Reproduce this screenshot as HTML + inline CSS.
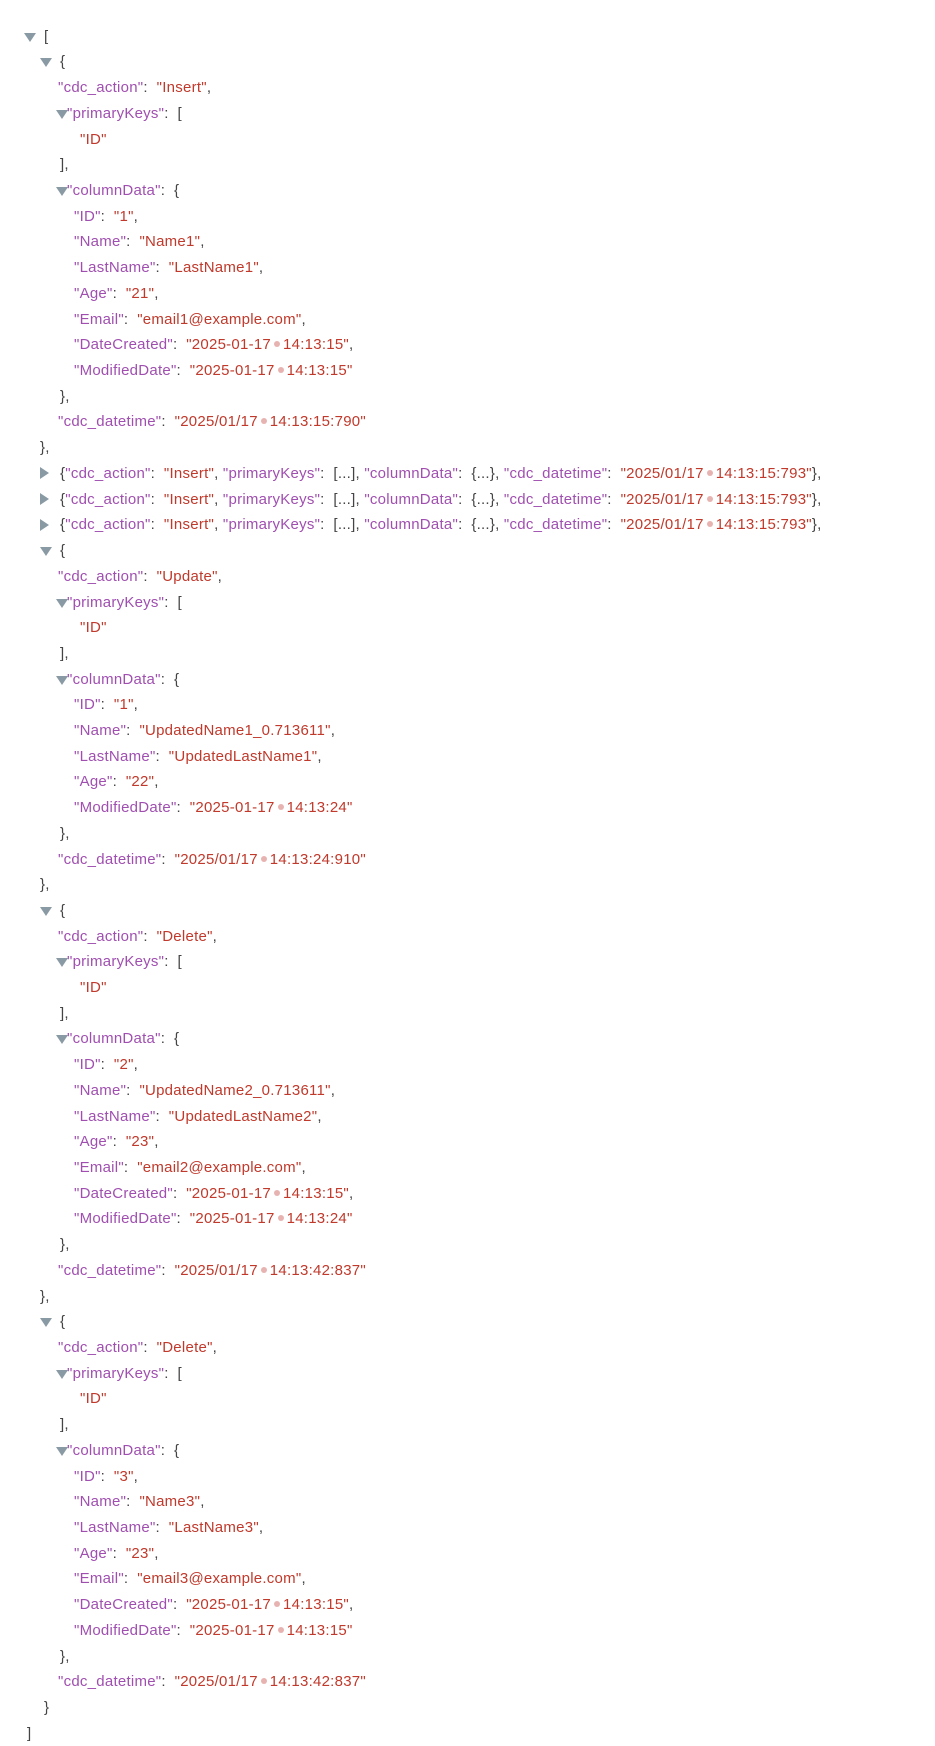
<!DOCTYPE html>
<html><head><meta charset="utf-8"><style>
html,body{margin:0;padding:0;background:#fff;width:935px;height:1746px;overflow:hidden}
body{position:relative;font-family:"Liberation Sans",sans-serif;font-size:15px;letter-spacing:0.25px;color:#444}
.l{position:absolute;height:26px;line-height:26px;white-space:pre}
.k{color:#a04fb0}.s{color:#c0392b}.p{color:#555}
.d{display:inline-block;width:6px;height:6px;border-radius:50%;background:#e7b3b0;margin:0 3px 2px 3px;vertical-align:middle}
.td{position:absolute;width:0;height:0;border-left:6px solid transparent;border-right:6px solid transparent;border-top:9px solid #8a9aa5}
.tr{position:absolute;width:0;height:0;border-top:6px solid transparent;border-bottom:6px solid transparent;border-left:9px solid #8a9aa5}
</style></head><body>
<div class="td" style="left:24px;top:33px"></div><div class="l" style="left:44px;top:24px">[</div>
<div class="td" style="left:40px;top:58px"></div><div class="l" style="left:60px;top:49px">{</div>
<div class="l" style="left:58px;top:75px"><span class="k">"cdc_action"</span>:  <span class="s">"Insert"</span>,</div>
<div class="td" style="left:56px;top:110px"></div><div class="l" style="left:67px;top:101px"><span class="k">"primaryKeys"</span>:  [</div>
<div class="l" style="left:80px;top:127px"><span class="s">"ID"</span></div>
<div class="l" style="left:60px;top:152px">],</div>
<div class="td" style="left:56px;top:187px"></div><div class="l" style="left:67px;top:178px"><span class="k">"columnData"</span>:  {</div>
<div class="l" style="left:74px;top:204px"><span class="k">"ID"</span>:  <span class="s">"1"</span>,</div>
<div class="l" style="left:74px;top:229px"><span class="k">"Name"</span>:  <span class="s">"Name1"</span>,</div>
<div class="l" style="left:74px;top:255px"><span class="k">"LastName"</span>:  <span class="s">"LastName1"</span>,</div>
<div class="l" style="left:74px;top:281px"><span class="k">"Age"</span>:  <span class="s">"21"</span>,</div>
<div class="l" style="left:74px;top:307px"><span class="k">"Email"</span>:  <span class="s">"email1@example.com"</span>,</div>
<div class="l" style="left:74px;top:332px"><span class="k">"DateCreated"</span>:  <span class="s">"2025-01-17<span class="d"></span>14:13:15"</span>,</div>
<div class="l" style="left:74px;top:358px"><span class="k">"ModifiedDate"</span>:  <span class="s">"2025-01-17<span class="d"></span>14:13:15"</span></div>
<div class="l" style="left:60px;top:384px">},</div>
<div class="l" style="left:58px;top:409px"><span class="k">"cdc_datetime"</span>:  <span class="s">"2025/01/17<span class="d"></span>14:13:15:790"</span></div>
<div class="l" style="left:40px;top:435px">},</div>
<div class="tr" style="left:40px;top:467px"></div><div class="l" style="left:60px;top:461px">{<span class="k">"cdc_action"</span>:  <span class="s">"Insert"</span>, <span class="k">"primaryKeys"</span>:  [...], <span class="k">"columnData"</span>:  {...}, <span class="k">"cdc_datetime"</span>:  <span class="s">"2025/01/17<span class="d"></span>14:13:15:793"</span>},</div>
<div class="tr" style="left:40px;top:493px"></div><div class="l" style="left:60px;top:487px">{<span class="k">"cdc_action"</span>:  <span class="s">"Insert"</span>, <span class="k">"primaryKeys"</span>:  [...], <span class="k">"columnData"</span>:  {...}, <span class="k">"cdc_datetime"</span>:  <span class="s">"2025/01/17<span class="d"></span>14:13:15:793"</span>},</div>
<div class="tr" style="left:40px;top:519px"></div><div class="l" style="left:60px;top:512px">{<span class="k">"cdc_action"</span>:  <span class="s">"Insert"</span>, <span class="k">"primaryKeys"</span>:  [...], <span class="k">"columnData"</span>:  {...}, <span class="k">"cdc_datetime"</span>:  <span class="s">"2025/01/17<span class="d"></span>14:13:15:793"</span>},</div>
<div class="td" style="left:40px;top:547px"></div><div class="l" style="left:60px;top:538px">{</div>
<div class="l" style="left:58px;top:564px"><span class="k">"cdc_action"</span>:  <span class="s">"Update"</span>,</div>
<div class="td" style="left:56px;top:599px"></div><div class="l" style="left:67px;top:590px"><span class="k">"primaryKeys"</span>:  [</div>
<div class="l" style="left:80px;top:615px"><span class="s">"ID"</span></div>
<div class="l" style="left:60px;top:641px">],</div>
<div class="td" style="left:56px;top:676px"></div><div class="l" style="left:67px;top:667px"><span class="k">"columnData"</span>:  {</div>
<div class="l" style="left:74px;top:692px"><span class="k">"ID"</span>:  <span class="s">"1"</span>,</div>
<div class="l" style="left:74px;top:718px"><span class="k">"Name"</span>:  <span class="s">"UpdatedName1_0.713611"</span>,</div>
<div class="l" style="left:74px;top:744px"><span class="k">"LastName"</span>:  <span class="s">"UpdatedLastName1"</span>,</div>
<div class="l" style="left:74px;top:769px"><span class="k">"Age"</span>:  <span class="s">"22"</span>,</div>
<div class="l" style="left:74px;top:795px"><span class="k">"ModifiedDate"</span>:  <span class="s">"2025-01-17<span class="d"></span>14:13:24"</span></div>
<div class="l" style="left:60px;top:821px">},</div>
<div class="l" style="left:58px;top:847px"><span class="k">"cdc_datetime"</span>:  <span class="s">"2025/01/17<span class="d"></span>14:13:24:910"</span></div>
<div class="l" style="left:40px;top:872px">},</div>
<div class="td" style="left:40px;top:907px"></div><div class="l" style="left:60px;top:898px">{</div>
<div class="l" style="left:58px;top:924px"><span class="k">"cdc_action"</span>:  <span class="s">"Delete"</span>,</div>
<div class="td" style="left:56px;top:958px"></div><div class="l" style="left:67px;top:949px"><span class="k">"primaryKeys"</span>:  [</div>
<div class="l" style="left:80px;top:975px"><span class="s">"ID"</span></div>
<div class="l" style="left:60px;top:1001px">],</div>
<div class="td" style="left:56px;top:1035px"></div><div class="l" style="left:67px;top:1026px"><span class="k">"columnData"</span>:  {</div>
<div class="l" style="left:74px;top:1052px"><span class="k">"ID"</span>:  <span class="s">"2"</span>,</div>
<div class="l" style="left:74px;top:1078px"><span class="k">"Name"</span>:  <span class="s">"UpdatedName2_0.713611"</span>,</div>
<div class="l" style="left:74px;top:1104px"><span class="k">"LastName"</span>:  <span class="s">"UpdatedLastName2"</span>,</div>
<div class="l" style="left:74px;top:1129px"><span class="k">"Age"</span>:  <span class="s">"23"</span>,</div>
<div class="l" style="left:74px;top:1155px"><span class="k">"Email"</span>:  <span class="s">"email2@example.com"</span>,</div>
<div class="l" style="left:74px;top:1181px"><span class="k">"DateCreated"</span>:  <span class="s">"2025-01-17<span class="d"></span>14:13:15"</span>,</div>
<div class="l" style="left:74px;top:1206px"><span class="k">"ModifiedDate"</span>:  <span class="s">"2025-01-17<span class="d"></span>14:13:24"</span></div>
<div class="l" style="left:60px;top:1232px">},</div>
<div class="l" style="left:58px;top:1258px"><span class="k">"cdc_datetime"</span>:  <span class="s">"2025/01/17<span class="d"></span>14:13:42:837"</span></div>
<div class="l" style="left:40px;top:1284px">},</div>
<div class="td" style="left:40px;top:1318px"></div><div class="l" style="left:60px;top:1309px">{</div>
<div class="l" style="left:58px;top:1335px"><span class="k">"cdc_action"</span>:  <span class="s">"Delete"</span>,</div>
<div class="td" style="left:56px;top:1370px"></div><div class="l" style="left:67px;top:1361px"><span class="k">"primaryKeys"</span>:  [</div>
<div class="l" style="left:80px;top:1386px"><span class="s">"ID"</span></div>
<div class="l" style="left:60px;top:1412px">],</div>
<div class="td" style="left:56px;top:1447px"></div><div class="l" style="left:67px;top:1438px"><span class="k">"columnData"</span>:  {</div>
<div class="l" style="left:74px;top:1464px"><span class="k">"ID"</span>:  <span class="s">"3"</span>,</div>
<div class="l" style="left:74px;top:1489px"><span class="k">"Name"</span>:  <span class="s">"Name3"</span>,</div>
<div class="l" style="left:74px;top:1515px"><span class="k">"LastName"</span>:  <span class="s">"LastName3"</span>,</div>
<div class="l" style="left:74px;top:1541px"><span class="k">"Age"</span>:  <span class="s">"23"</span>,</div>
<div class="l" style="left:74px;top:1566px"><span class="k">"Email"</span>:  <span class="s">"email3@example.com"</span>,</div>
<div class="l" style="left:74px;top:1592px"><span class="k">"DateCreated"</span>:  <span class="s">"2025-01-17<span class="d"></span>14:13:15"</span>,</div>
<div class="l" style="left:74px;top:1618px"><span class="k">"ModifiedDate"</span>:  <span class="s">"2025-01-17<span class="d"></span>14:13:15"</span></div>
<div class="l" style="left:60px;top:1644px">},</div>
<div class="l" style="left:58px;top:1669px"><span class="k">"cdc_datetime"</span>:  <span class="s">"2025/01/17<span class="d"></span>14:13:42:837"</span></div>
<div class="l" style="left:44px;top:1695px">}</div>
<div class="l" style="left:27px;top:1721px">]</div>
</body></html>
